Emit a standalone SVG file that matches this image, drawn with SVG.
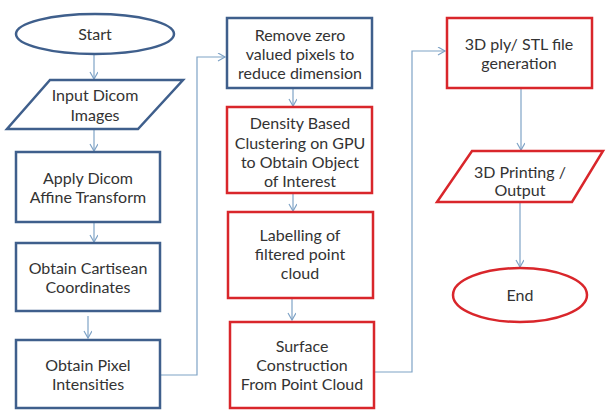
<svg xmlns="http://www.w3.org/2000/svg" width="607" height="410" viewBox="0 0 607 410">
<style>
.b{fill:#fff;stroke:#3f5f8c;stroke-width:2.5}
.r{fill:#fff;stroke:#d9262b;stroke-width:2.5}
.c{fill:none;stroke:#7fa3c6;stroke-width:1.2}
text{font-family:Lato,"Open Sans",sans-serif;font-size:16px;fill:#333;text-anchor:middle}
</style>
<defs>
<marker id="a" markerWidth="10" markerHeight="10" refX="8" refY="4" orient="auto" markerUnits="userSpaceOnUse">
<path d="M1,0 L8,4 L1,8" fill="none" stroke="#7fa3c6" stroke-width="1.2"/>
</marker>
</defs>
<g id="connectors">
<path class="c" d="M94,54 V79" marker-end="url(#a)"/>
<path class="c" d="M94,129 V151" marker-end="url(#a)"/>
<path class="c" d="M94,222 V242" marker-end="url(#a)"/>
<path class="c" d="M88,316 V338" marker-end="url(#a)"/>
<path class="c" d="M160,375 H197 V57 H225" marker-end="url(#a)"/>
<path class="c" d="M293,88 V106" marker-end="url(#a)"/>
<path class="c" d="M293,193 V211" marker-end="url(#a)"/>
<path class="c" d="M292,298 V320" marker-end="url(#a)"/>
<path class="c" d="M374,372 H412 V51 H445" marker-end="url(#a)"/>
<path class="c" d="M521,88 V150" marker-end="url(#a)"/>
<path class="c" d="M520,202 V267" marker-end="url(#a)"/>
</g>
<g id="start">
<ellipse class="b" cx="95" cy="34" rx="79" ry="20"/>
<text x="95" y="40">Start</text>
</g>
<g id="input">
<polygon class="b" points="50,80 183,80 138,129 7,129"/>
<text x="95" y="101">Input Dicom</text>
<text x="95" y="121">Images</text>
</g>
<g id="affine">
<rect class="b" x="16" y="152" width="144" height="70"/>
<text x="88" y="184">Apply Dicom</text>
<text x="88" y="203">Affine Transform</text>
</g>
<g id="cartesian">
<rect class="b" x="16" y="243" width="144" height="68"/>
<text x="88" y="274">Obtain Cartisean</text>
<text x="88" y="293">Coordinates</text>
</g>
<g id="pixel">
<rect class="b" x="16" y="340" width="144" height="68"/>
<text x="88" y="371">Obtain Pixel</text>
<text x="88" y="390">Intensities</text>
</g>
<g id="remove">
<rect class="b" x="227" y="18" width="145" height="70"/>
<text x="300" y="41">Remove zero</text>
<text x="300" y="60">valued pixels to</text>
<text x="300" y="79">reduce dimension</text>
</g>
<g id="density">
<rect class="r" x="227" y="107" width="145" height="86"/>
<text x="300" y="129">Density Based</text>
<text x="300" y="149">Clustering on GPU</text>
<text x="300" y="168">to Obtain Object</text>
<text x="300" y="187">of Interest</text>
</g>
<g id="labelling">
<rect class="r" x="228" y="212" width="145" height="86"/>
<text x="300" y="241">Labelling of</text>
<text x="300" y="260">filtered point</text>
<text x="300" y="279">cloud</text>
</g>
<g id="surface">
<rect class="r" x="230" y="322" width="144" height="86"/>
<text x="302" y="352">Surface</text>
<text x="302" y="371">Construction</text>
<text x="302" y="390">From Point Cloud</text>
</g>
<g id="stl">
<rect class="r" x="447" y="18" width="145" height="70"/>
<text x="519" y="50">3D ply/ STL file</text>
<text x="519" y="69">generation</text>
</g>
<g id="printing">
<polygon class="r" points="472,151 603,151 572,202 437,202"/>
<text x="520" y="178">3D Printing /</text>
<text x="520" y="196">Output</text>
</g>
<g id="end">
<ellipse class="r" cx="520" cy="295" rx="67" ry="27"/>
<text x="520" y="301">End</text>
</g>
</svg>
